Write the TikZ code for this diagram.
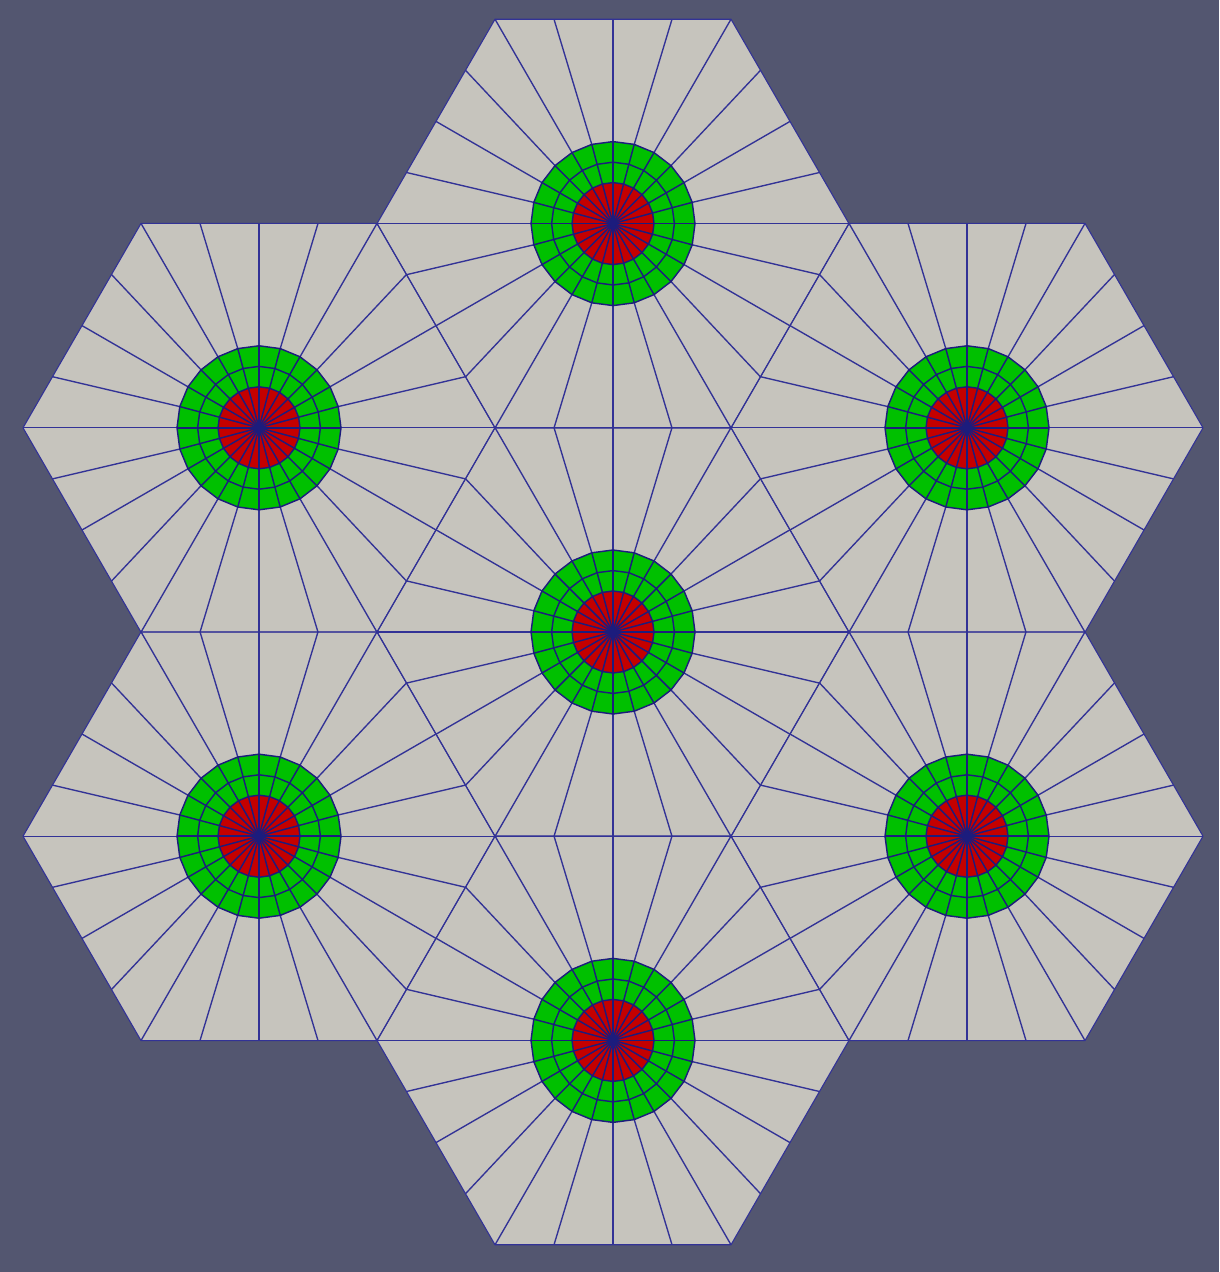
\documentclass[tikz,border=0pt]{standalone}
\definecolor{bgc}{RGB}{83,86,112}
\definecolor{cellgray}{RGB}{198,196,189}
\definecolor{cellgreen}{RGB}{0,192,0}
\definecolor{cellred}{RGB}{196,0,0}
\definecolor{mesh}{RGB}{50,50,150}
\definecolor{meshdark}{RGB}{28,28,125}
\tikzset{meshline/.style={draw=mesh,line width=0.68pt,line join=round},
  coreline/.style={draw=meshdark,line width=0.72pt,line join=round},
  rimline/.style={draw=mesh,line width=0.55pt,line join=round}}
\newcommand{\hexR}{236}
\newcommand{\ringA}{41}
\newcommand{\ringB}{61.4}
\newcommand{\ringC}{82}
\newcommand{\allcenters}{613/223.6,259/427.8,967/427.8,613/632,259/836.2,967/836.2,613/1040.4}
\begin{document}
\begin{tikzpicture}[x=0.5pt,y=-0.5pt]
\useasboundingbox (0,0) rectangle (1219,1272);
\fill[bgc] (0,0) rectangle (1219,1272);
% cell fills
\foreach \cx/\cy in \allcenters {
  \fill[cellgray] (\cx,\cy) ++(0:\hexR) -- ++(120:\hexR) -- ++(180:\hexR) -- ++(240:\hexR) -- ++(300:\hexR) -- ++(0:\hexR) -- cycle;
}
\foreach \cx/\cy in \allcenters {
  \begin{scope}[shift={(\cx,\cy)}]
    \fill[cellgreen] (0:\ringC) \foreach \k in {1,...,23} { -- ({15*\k}:\ringC) } -- cycle;
    \fill[cellred] (0:\ringA) \foreach \k in {1,...,23} { -- ({15*\k}:\ringA) } -- cycle;
  \end{scope}
}
% mesh lines
\foreach \cx/\cy in \allcenters {
  \begin{scope}[shift={(\cx,\cy)}]
    \draw[rimline] (0:\hexR) -- (60:\hexR) -- (120:\hexR) -- (180:\hexR) -- (240:\hexR) -- (300:\hexR) -- cycle;
    \foreach \k in {0,...,23} {
      \pgfmathtruncatemacro{\j}{int(\k/4)}
      \pgfmathsetmacro{\t}{(\k-4*\j)/4}
      \pgfmathsetmacro{\bx}{\hexR*((1-\t)*cos(60*\j)+\t*cos(60*\j+60))}
      \pgfmathsetmacro{\by}{\hexR*((1-\t)*sin(60*\j)+\t*sin(60*\j+60))}
      \coordinate (core) at (0,0);
      \coordinate (rim) at ({15*\k}:\ringC);
      \coordinate (edge) at (\bx,\by);
      \draw[meshline] (rim) -- (edge);
      \draw[coreline] (core) -- (rim);
    }
    \foreach \r in {\ringA,\ringB,\ringC} {
      \draw[coreline] (0:\r) \foreach \k in {1,...,23} { -- ({15*\k}:\r) } -- cycle;
    }
  \end{scope}
}
\end{tikzpicture}
\end{document}
